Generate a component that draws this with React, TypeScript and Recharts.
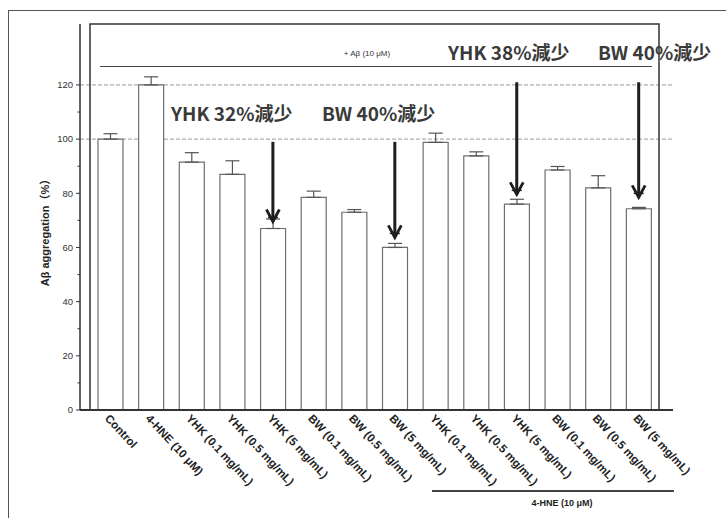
import React from 'react';
import { BarChart, Bar, XAxis, YAxis, ErrorBar, ReferenceLine, ReferenceArea, CartesianGrid } from 'recharts';

const categories = [
  'Control',
  '4-HNE (10 μM)',
  'YHK (0.1 mg/mL)',
  'YHK (0.5 mg/mL)',
  'YHK (5 mg/mL)',
  'BW (0.1 mg/mL)',
  'BW (0.5 mg/mL)',
  'BW (5 mg/mL)',
  'YHK (0.1 mg/mL)',
  'YHK (0.5 mg/mL)',
  'YHK (5 mg/mL)',
  'BW (0.1 mg/mL)',
  'BW (0.5 mg/mL)',
  'BW (5 mg/mL)',
];
const aggregation = [100, 120, 91.5, 87, 67, 78.5, 73, 60, 98.8, 93.8, 76, 88.6, 82, 74.3];
const errorUp = [2, 3, 3.5, 5, 3.5, 2.3, 1, 1.5, 3.4, 1.5, 1.8, 1.3, 4.5, 0.5];
const yTicks = [0, 10, 20, 30, 40, 50, 60, 70, 80, 90, 100, 110, 120];
const referenceLevels = [100, 120];
const arrowBars = [4, 7, 10, 13];
const arrowFrom = [99, 99, 121, 121];
const arrowTo = [69.6, 63.7, 79.6, 78.5];
const annotationTexts = ['YHK 32%減少', 'BW 40%減少', 'YHK 38%減少', 'BW 40%減少'];
const annotationPos = [
  { left: 171, top: 103 },
  { left: 322, top: 103 },
  { left: 448, top: 42 },
  { left: 598, top: 42 },
];
const yMax = 142.5;
const topGroupLabel = '+ Aβ (10 μM)';
const bottomGroupLabel = '4-HNE (10 μM)';
const yAxisTitle = 'Aβ aggregation（%）';

const data = categories.map((c, i) => ({
  key: `g${i}`,
  label: c,
  value: aggregation[i],
  err: [0, errorUp[i]],
}));
const labelByKey: Record<string, string> = {};
data.forEach((d) => (labelByKey[d.key] = d.label));

const YTick = (props: any) => {
  const { x, y, payload } = props;
  const v = payload.value;
  const major = v % 20 === 0;
  return (
    <g>
      <line x1={x - (major ? 4 : 2.5)} x2={x} y1={y} y2={y} stroke="#333" strokeWidth={1} />
      {major && (
        <text x={x - 7} y={y} dy="0.35em" textAnchor="end" fontSize={9.5} fill="#333" fontFamily="Arial, 'Liberation Sans', sans-serif">
          {v}
        </text>
      )}
    </g>
  );
};

const XTick = (props: any) => {
  const { x, y, payload } = props;
  const sx = x - 6;
  const sy = y + 9;
  return (
    <text
      x={sx}
      y={sy}
      transform={`rotate(47 ${sx} ${sy})`}
      textAnchor="start"
      fontSize={11.5}
      fontWeight="bold"
      fill="#222"
      fontFamily="Arial, 'Liberation Sans', sans-serif"
    >
      {labelByKey[payload.value]}
    </text>
  );
};

const ArrowShape = (props: any) => {
  const { x1, y1, x2, y2 } = props;
  return (
    <g>
      <line x1={x1} y1={y1} x2={x2} y2={y2} stroke="#1e1e1e" strokeWidth={3} />
      <polyline
        points={`${x2 - 6.5},${y2 - 12} ${x2},${y2} ${x2 + 6.5},${y2 - 12}`}
        fill="none"
        stroke="#1e1e1e"
        strokeWidth={2.8}
      />
      <line x1={x2 - 5} x2={x2 + 5} y1={y2 - 4} y2={y2 - 4} stroke="#1e1e1e" strokeWidth={1.5} />
    </g>
  );
};

const YTitle = (props: any) => {
  const vb = props.viewBox;
  const cx = vb.x + 5;
  const cy = vb.y + vb.height / 2 + 13;
  return (
    <text
      x={cx}
      y={cy}
      transform={`rotate(-90 ${cx} ${cy})`}
      textAnchor="middle"
      dominantBaseline="central"
      fontSize={11}
      fontWeight="bold"
      fill="#222"
      fontFamily="Arial, 'Liberation Sans', 'Noto Sans CJK SC', sans-serif"
    >
      {yAxisTitle}
    </text>
  );
};

export default function App() {
  return (
    <div style={{ position: 'fixed', left: 0, top: 0, width: 726, height: 518, background: '#fff', overflow: 'hidden' }}>
      <div
        style={{
          position: 'absolute',
          left: 8,
          top: 10,
          width: 718,
          height: 508,
          borderTop: '1px solid #555',
          borderLeft: '1px solid #555',
        }}
      />
      <div style={{ position: 'absolute', left: 0, top: 0 }}>
        <BarChart width={726} height={518} data={data} margin={{ top: 24, right: 53, bottom: 8, left: 40 }}>
          <CartesianGrid
            vertical={false}
            horizontalValues={referenceLevels}
            stroke="#9a9a9a"
            strokeDasharray="4 2"
          />
          <ReferenceArea y1={0} y2={yMax} fill="none" stroke="#333" strokeWidth={1.5} ifOverflow="visible" />
          <XAxis
            dataKey="key"
            interval={0}
            height={100}
            padding={{ left: 10, right: 14 }}
            tickSize={0}
            tickMargin={0}
            tickLine={false}
            axisLine={{ stroke: '#333', strokeWidth: 2 }}
            tick={<XTick />}
          />
          <YAxis
            width={40}
            domain={[0, yMax]}
            ticks={yTicks}
            interval={0}
            tickSize={0}
            tickMargin={0}
            tickLine={false}
            axisLine={{ stroke: '#333', strokeWidth: 1.5 }}
            tick={<YTick />}
            label={{ content: <YTitle /> }}
          />
          <Bar dataKey="value" fill="#fff" stroke="#6e6e6e" strokeWidth={1.2} barSize={25} isAnimationActive={false}>
            <ErrorBar dataKey="err" width={7} stroke="#555" strokeWidth={1.2} direction="y" />
          </Bar>
          {arrowBars.map((b, i) => (
            <ReferenceLine
              key={`a${i}`}
              segment={[
                { x: `g${b}`, y: arrowFrom[i] },
                { x: `g${b}`, y: arrowTo[i] },
              ]}
              shape={<ArrowShape />}
            />
          ))}
        </BarChart>
      </div>
      <div style={{ position: 'absolute', left: 100, top: 66, width: 552, height: 0, borderTop: '1px solid #444' }} />
      <div
        style={{
          position: 'absolute',
          left: 367,
          top: 53,
          transform: 'translate(-50%, -50%)',
          fontFamily: "Arial, 'Liberation Sans', sans-serif",
          fontSize: 8,
          color: '#333',
          whiteSpace: 'nowrap',
        }}
      >
        {topGroupLabel}
      </div>
      <div style={{ position: 'absolute', left: 432, top: 490, width: 242, height: 0, borderTop: '2px solid #444' }} />
      <div
        style={{
          position: 'absolute',
          left: 562,
          top: 503,
          transform: 'translate(-50%, -50%)',
          fontFamily: "Arial, 'Liberation Sans', sans-serif",
          fontWeight: 'bold',
          fontSize: 9,
          color: '#222',
          whiteSpace: 'nowrap',
        }}
      >
        {bottomGroupLabel}
      </div>
      {annotationTexts.map((t, i) => (
        <div
          key={`t${i}`}
          style={{
            position: 'absolute',
            left: annotationPos[i].left,
            top: annotationPos[i].top,
            fontFamily: "'Noto Sans CJK TC', 'Noto Sans', sans-serif",
            fontWeight: 700,
            fontSize: 19,
            lineHeight: '20px',
            color: '#3a3a3a',
            whiteSpace: 'nowrap',
          }}
        >
          {t}
        </div>
      ))}
    </div>
  );
}
